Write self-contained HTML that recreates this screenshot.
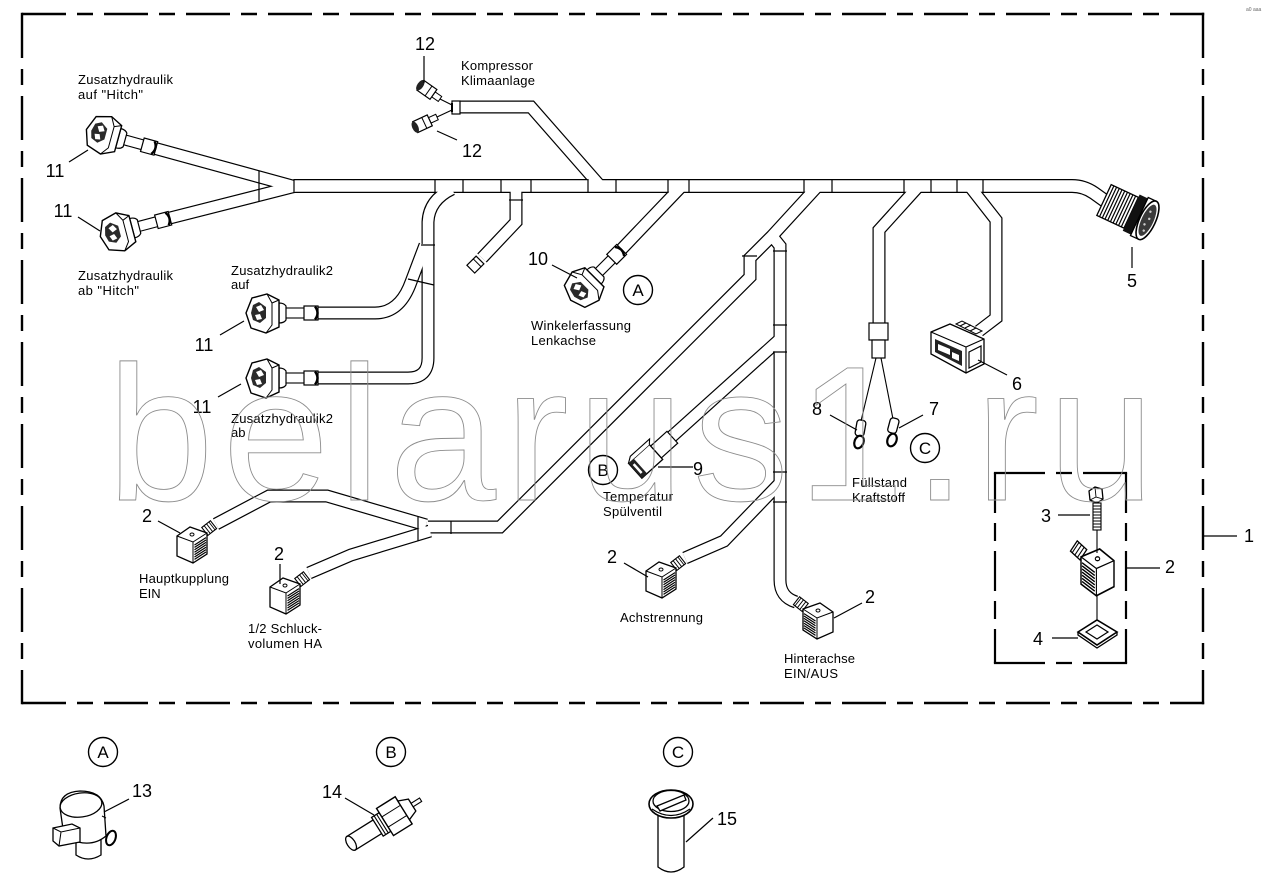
<!DOCTYPE html>
<html><head><meta charset="utf-8">
<style>
html,body{margin:0;padding:0;background:#fff;width:1274px;height:890px;overflow:hidden}
svg{display:block}
.t{font-family:"Liberation Sans",Arial,sans-serif;font-size:13px;fill:#000}
.n{font-family:"Liberation Sans",Arial,sans-serif;font-size:18px;fill:#000;text-anchor:middle}
.c{font-family:"Liberation Sans",Arial,sans-serif;font-size:17px;fill:#000;text-anchor:middle}
</style></head><body>
<svg width="1274" height="890" viewBox="0 0 1274 890" xmlns="http://www.w3.org/2000/svg">
<defs>
<g id="c11">
 <rect x="-2" y="-5" width="22" height="10" fill="#fff" stroke="#000" stroke-width="1.1"/>
 <rect x="18" y="-7" width="14" height="14" fill="#fff" stroke="#000" stroke-width="1.2"/>
 <path d="M29,-6.5 Q34,0 29,6.5" fill="none" stroke="#000" stroke-width="2.4"/>
 <path d="M-7,-10 Q-2,-10 0,-7 L0,7 Q-2,10 -7,10 Z" fill="#fff" stroke="#000" stroke-width="1.2"/>
 <path d="M-7,-13 L-19,-19 L-34,-15 L-40,0 L-35,15 L-20,20 L-7,14 Z" fill="#fff" stroke="#000" stroke-width="1.4"/>
 <path d="M-19,-19 L-14,-10 L-14,12 L-20,20 M-14,-10 L-7,-13" fill="none" stroke="#000" stroke-width="1"/>
 <path d="M-33,-8 L-27,-11 L-20,-6 L-20,5 L-26,10 L-33,7 L-35,0 Z" fill="#2a2a2a"/>
 <path d="M-30,-6 L-25,-8 L-22,-3 L-27,-1 Z M-31,2 L-26,1 L-24,6 L-29,7 Z" fill="#fff"/>
 <path d="M-19,-3 L-16,-3 L-16,3 L-19,3 Z" fill="#fff"/>
</g>
<g id="sol">
 <g transform="translate(31,2) rotate(-38)">
  <rect x="-4" y="-5" width="11" height="10" fill="#fff" stroke="#000" stroke-width="1.1"/>
  <path d="M-1,-5 V5 M2,-5 V5 M5,-5 V5" stroke="#000" stroke-width="0.9"/>
 </g>
 <path d="M0,9 L13,0 L30,6 L30,27 L16,36 L0,29 Z" fill="#fff" stroke="#000" stroke-width="1.3"/>
 <path d="M0,9 L16,15 L30,6 M16,15 V36" fill="none" stroke="#000" stroke-width="1"/>
 <ellipse cx="15" cy="7.5" rx="2" ry="1.5" fill="none" stroke="#000" stroke-width="1"/>
 <path d="M17.5,18 L29,10.6 M17.5,20.4 L29,13 M17.5,22.8 L29,15.4 M17.5,25.2 L29,17.8 M17.5,27.6 L29,20.2 M17.5,30 L29,22.6 M17.5,32.4 L29,25" stroke="#000" stroke-width="1.2"/>
</g>
</defs>
<rect width="1274" height="890" fill="#fff"/>

<!-- outer dashed frame (explicit dashes) -->
<g fill="none" stroke="#000" stroke-width="2.4">
 <path d="M22,14 H66 M77,14 H93 M104,14 H148 M159,14 H175 M186,14 H230 M241,14 H257 M268,14 H312 M323,14 H339 M350,14 H394 M405,14 H421 M432,14 H476 M487,14 H503 M514,14 H558 M569,14 H585 M596,14 H640 M651,14 H667 M678,14 H722 M733,14 H749 M760,14 H804 M815,14 H831 M842,14 H886 M897,14 H913 M924,14 H968 M979,14 H995 M1006,14 H1050 M1061,14 H1077 M1088,14 H1132 M1143,14 H1159 M1170,14 H1204.2"/>
 <path d="M22,703 H66 M77,703 H93 M104,703 H148 M159,703 H175 M186,703 H230 M241,703 H257 M268,703 H312 M323,703 H339 M350,703 H394 M405,703 H421 M432,703 H476 M487,703 H503 M514,703 H558 M569,703 H585 M596,703 H640 M651,703 H667 M678,703 H722 M733,703 H749 M760,703 H804 M815,703 H831 M842,703 H886 M897,703 H913 M924,703 H968 M979,703 H995 M1006,703 H1050 M1061,703 H1077 M1088,703 H1132 M1143,703 H1159 M1170,703 H1204.2"/>
 <path d="M22,12.8 V58 M22,69 V85 M22,96 V140 M22,151 V167 M22,178 V222 M22,233 V249 M22,260 V304 M22,315 V331 M22,342 V386 M22,397 V413 M22,424 V468 M22,479 V495 M22,506 V550 M22,561 V577 M22,588 V632 M22,643 V659 M22,670 V704.2"/>
 <path d="M1203,12.8 V58 M1203,69 V85 M1203,96 V140 M1203,151 V167 M1203,178 V222 M1203,233 V249 M1203,260 V304 M1203,315 V331 M1203,342 V386 M1203,397 V413 M1203,424 V468 M1203,479 V495 M1203,506 V550 M1203,561 V577 M1203,588 V632 M1203,643 V659 M1203,670 V704.2"/>
</g>
<line x1="1203" y1="536" x2="1237" y2="536" stroke="#000" stroke-width="1.3"/>

<!-- inner dashed box (explicit dashes) -->
<g fill="none" stroke="#000" stroke-width="2.2">
 <path d="M993.9,473 H1045 M1056,473 H1072 M1083,473 H1127.1"/>
 <path d="M993.9,663 H1045 M1056,663 H1072 M1083,663 H1127.1"/>
 <path d="M995,473 V513 M995,523 V541 M995,551 V591 M995,601 V619 M995,629 V663"/>
 <path d="M1126,473 V513 M1126,523 V541 M1126,551 V591 M1126,601 V619 M1126,629 V663"/>
</g>

<!-- harness tubes -->
<g fill="none" stroke-linejoin="miter" stroke-miterlimit="4">
 <g stroke="#000" stroke-width="13">
  <path d="M296,187 L150,147"/>
  <path d="M296,186 L166,219"/>
  <path d="M452,189 Q429,200 428,222 L428,358 Q428,378 408,378 L312,378"/>
  <path d="M425,245 L411,282 Q400,313 375,313 L312,313"/>
  <path d="M516,189 L516,222 L482,258"/>
  <path d="M602,188 L531,107 L458,107"/>
  <path d="M680,188 L616,255"/>
  <path d="M816,188 L772,236 L750,258 L750,277 L500,527 L428,527"/>
  <path d="M772,236 L780,246 L780,580 Q780,597 796,602"/>
  <path d="M779,340 L668,440"/>
  <path d="M779,484 L724,541 L685,558"/>
  <path d="M216,524 L269,496 L327,496 L426,525"/>
  <path d="M309,573 L351,555 L430,531"/>
  <path d="M917,188 L879,230 L879,326"/>
  <path d="M971,188 L996,220 L996,318 L979,331"/>
 </g>
 <path d="M294,186 L1072,186 Q1084,186 1094,193 L1108,203" stroke="#000" stroke-width="14"/>
 <g stroke="#fff" stroke-width="10.6">
  <path d="M296,187 L150,147"/>
  <path d="M296,186 L166,219"/>
  <path d="M452,189 Q429,200 428,222 L428,358 Q428,378 408,378 L312,378"/>
  <path d="M425,245 L411,282 Q400,313 375,313 L312,313"/>
  <path d="M516,189 L516,222 L482,258"/>
  <path d="M602,188 L531,107 L458,107"/>
  <path d="M680,188 L616,255"/>
  <path d="M816,188 L772,236 L750,258 L750,277 L500,527 L428,527"/>
  <path d="M772,236 L780,246 L780,580 Q780,597 796,602"/>
  <path d="M779,340 L668,440"/>
  <path d="M779,484 L724,541 L685,558"/>
  <path d="M216,524 L269,496 L327,496 L426,525"/>
  <path d="M309,573 L351,555 L430,531"/>
  <path d="M917,188 L879,230 L879,326"/>
  <path d="M971,188 L996,220 L996,318 L979,331"/>
 </g>
 <path d="M294,186 L1072,186 Q1084,186 1094,193 L1108,203" stroke="#fff" stroke-width="11.6"/>
</g>

<!-- cross marks -->
<g stroke="#000" stroke-width="1.2">
 <path d="M294,179 V193 M435,179 V193 M463,179 V193 M501,179 V193 M531,179 V193 M588,179 V193 M616,179 V193 M668,179 V193 M689,179 V193 M804,179 V193 M832,179 V193 M904,179 V193 M931,179 V193 M957,179 V193 M983,179 V193"/>
 <path d="M259,171 V201"/>
 <path d="M421,245 H435 M408,279 L434,285"/>
 <path d="M509,200 H523"/>
 <path d="M773,325 H787 M773,352 H787 M773,472 H787 M773,502 H787"/>
 <path d="M742,256 H757 M773,251 H787"/>
 <path d="M418,517 V541 M451,521 V534"/>
</g>

<!-- connectors 11 / 10 -->
<use href="#c11" transform="translate(125,140) rotate(15.3)"/>
<use href="#c11" transform="translate(139,226.4) rotate(-14.8)"/>
<use href="#c11" transform="translate(286,313)"/>
<use href="#c11" transform="translate(286,378)"/>
<use href="#c11" transform="translate(599,272) rotate(-45)"/>

<!-- end plug of branch -->
<g transform="translate(480,260) rotate(135)">
 <rect x="0" y="-5.5" width="13" height="11" fill="#fff" stroke="#000" stroke-width="1.2"/>
 <line x1="4" y1="-5.5" x2="4" y2="5.5" stroke="#000" stroke-width="1"/>
</g>

<!-- compressor end & connectors 12 -->
<rect x="452" y="101" width="8" height="13" fill="#fff" stroke="#000" stroke-width="1.2"/>
<path d="M452,103 V112" stroke="#000" stroke-width="2"/>
<path d="M452,105 L440,99 M452,110 L437,117" stroke="#000" stroke-width="1.1" fill="none"/>
<g transform="translate(440,99) rotate(35)">
 <rect x="-8" y="-3" width="8" height="6" fill="#fff" stroke="#000" stroke-width="1"/>
 <rect x="-24" y="-6" width="16" height="12" fill="#fff" stroke="#000" stroke-width="1.2"/>
 <ellipse cx="-24" cy="0" rx="3" ry="6" fill="#222"/>
 <line x1="-14" y1="-6" x2="-14" y2="6" stroke="#000"/>
</g>
<g transform="translate(437,117) rotate(-25)">
 <rect x="-8" y="-3" width="8" height="6" fill="#fff" stroke="#000" stroke-width="1"/>
 <rect x="-24" y="-6" width="16" height="12" fill="#fff" stroke="#000" stroke-width="1.2"/>
 <ellipse cx="-24" cy="0" rx="3" ry="6" fill="#222"/>
 <line x1="-14" y1="-6" x2="-14" y2="6" stroke="#000"/>
</g>

<!-- connector 9 -->
<g transform="translate(656,452) rotate(-42)">
 <rect x="0" y="-8" width="22" height="16" fill="#fff" stroke="#000" stroke-width="1.2"/>
 <rect x="-28" y="-10" width="28" height="20" fill="#fff" stroke="#000" stroke-width="1.3"/>
 <path d="M-28,-10 L-22,-14 L4,-14 L0,-10" fill="#fff" stroke="#000" stroke-width="1.1"/>
 <rect x="-28" y="-10" width="7" height="20" fill="#222"/>
 <rect x="-26" y="-6" width="2.5" height="12" fill="#fff"/>
</g>

<!-- fuel sender wires & terminals -->
<rect x="869" y="323" width="19" height="17" fill="#fff" stroke="#000" stroke-width="1.2"/>
<rect x="872" y="340" width="13" height="18" fill="#fff" stroke="#000" stroke-width="1.2"/>
<path d="M876,358 L861,421 M881,358 L893,419" stroke="#000" stroke-width="1.1" fill="none"/>
<rect x="856" y="420" width="9" height="16" rx="3" fill="#fff" stroke="#000" stroke-width="1.3" transform="rotate(10 860 428)"/>
<ellipse cx="859" cy="442" rx="4.5" ry="6.5" fill="none" stroke="#000" stroke-width="2.2" transform="rotate(20 859 442)"/>
<rect x="889" y="418" width="9" height="15" rx="3" fill="#fff" stroke="#000" stroke-width="1.3" transform="rotate(15 893 425)"/>
<ellipse cx="892" cy="440" rx="4.5" ry="6.5" fill="none" stroke="#000" stroke-width="2.2" transform="rotate(20 892 440)"/>

<!-- connector 6 -->
<path d="M931,332 L950,324 L984,339 L984,364 L966,373 L931,354 Z" fill="#fff" stroke="#000" stroke-width="1.3"/>
<path d="M931,332 L966,347 L984,339 M966,347 V373" fill="none" stroke="#000" stroke-width="1.1"/>
<path d="M935,339 L962,351 L962,366 L935,352 Z" fill="#222"/>
<path d="M938,344 L950,349 L950,355 L938,350 Z M952,352 L959,355 L959,361 L952,358 Z" fill="#fff"/>
<path d="M969,352 L981,346 L981,362 L969,368 Z" fill="none" stroke="#000" stroke-width="1.2"/>
<path d="M956,324 L962,321 L982,331 L976,334 Z" fill="#fff" stroke="#000" stroke-width="1"/>
<path d="M960,326 L966,323 M965,328 L971,325 M970,331 L976,328" stroke="#000" stroke-width="1"/>

<!-- connector 5 -->
<g transform="translate(1104,200) rotate(25)">
 <rect x="0" y="-17" width="30" height="34" fill="#fff" stroke="#000" stroke-width="1.3"/>
 <path d="M3,-17 V17 M6,-17 V17 M9,-17 V17 M12,-17 V17 M15,-17 V17 M18,-17 V17 M21,-17 V17 M24,-17 V17 M27,-17 V17" stroke="#000" stroke-width="1.2"/>
 <rect x="30" y="-20" width="9" height="40" fill="#111"/>
 <rect x="39" y="-21" width="9" height="42" fill="#fff" stroke="#000" stroke-width="1.3"/>
 <ellipse cx="48" cy="0" rx="8" ry="21" fill="#fff" stroke="#000" stroke-width="1.6"/>
 <ellipse cx="48" cy="0" rx="6" ry="17" fill="#3a3a3a"/>
 <circle cx="47" cy="-9" r="1.2" fill="#ccc"/><circle cx="49" cy="-2" r="1.2" fill="#ccc"/>
 <circle cx="47" cy="5" r="1.2" fill="#ccc"/><circle cx="49" cy="11" r="1.2" fill="#ccc"/>
</g>

<!-- solenoids -->
<use href="#sol" transform="translate(177,527)"/>
<use href="#sol" transform="translate(270,578)"/>
<use href="#sol" transform="translate(646,562)"/>
<use href="#sol" transform="translate(833,603) scale(-1,1)"/>
<use href="#sol" transform="translate(1114,549) scale(-1.1,1.3)"/>

<!-- bolt, washer -->
<path d="M1097,530 V553 M1097,596 V622" stroke="#000" stroke-width="1.1"/>
<path d="M1089,491 L1095,487 L1102,489 L1103,499 L1097,503 L1090,500 Z" fill="#fff" stroke="#000" stroke-width="1.3"/>
<path d="M1095,487 L1096,497 L1103,499 M1096,497 L1090,500" fill="none" stroke="#000" stroke-width="0.9"/>
<rect x="1093" y="503" width="8" height="27" fill="#fff" stroke="#000" stroke-width="1.1"/>
<path d="M1093,506 H1101 M1093,509 H1101 M1093,512 H1101 M1093,515 H1101 M1093,518 H1101 M1093,521 H1101 M1093,524 H1101 M1093,527 H1101" stroke="#000" stroke-width="1.1"/>
<path d="M1078,632 L1097,620 L1117,632 L1097,645 Z" fill="#fff" stroke="#000" stroke-width="1.6"/>
<path d="M1078,632 L1078,635 L1097,648 L1117,635 L1117,632" fill="none" stroke="#000" stroke-width="1.3"/>
<path d="M1086,632 L1097,625 L1108,632 L1097,639 Z" fill="#fff" stroke="#000" stroke-width="1.2"/>

<!-- bottom parts: 13 -->
<path d="M76,828 V855 Q88,863 101,855 V828" fill="#fff" stroke="#000" stroke-width="1.3"/>
<path d="M60,808 Q60,792 80,791 Q101,791 104,806 L106,836 Q94,846 78,842 L64,836 Z" fill="#fff" stroke="#000" stroke-width="1.3"/>
<ellipse cx="81" cy="805" rx="21" ry="12" fill="#fff" stroke="#000" stroke-width="1.3" transform="rotate(-8 81 805)"/>
<path d="M53,828 L72,824 L80,828 L80,842 L59,846 L53,841 Z" fill="#fff" stroke="#000" stroke-width="1.3"/>
<path d="M53,828 L61,832 L80,828 M61,832 L59,846" fill="none" stroke="#000" stroke-width="1"/>
<ellipse cx="111" cy="838" rx="4.5" ry="7.5" fill="#fff" stroke="#000" stroke-width="2" transform="rotate(20 111 838)"/>
<path d="M102,816 L106,818" stroke="#000"/>

<!-- 14 -->
<g transform="translate(385,822) rotate(-32)">
 <rect x="-40" y="-8" width="32" height="16" fill="#fff" stroke="#000" stroke-width="1.3"/>
 <ellipse cx="-40" cy="0" rx="4" ry="8" fill="#fff" stroke="#000" stroke-width="1.3"/>
 <rect x="-9" y="-11" width="9" height="22" fill="#fff" stroke="#000" stroke-width="1.3"/>
 <path d="M-6,-11 V11 M-3,-11 V11" stroke="#000" stroke-width="1.1"/>
 <rect x="0" y="-16" width="22" height="32" fill="#fff" stroke="#000" stroke-width="1.4"/>
 <path d="M0,-6 H22 M0,6 H22" stroke="#000" stroke-width="1"/>
 <path d="M22,-11 L32,-7 L32,7 L22,11 Z" fill="#fff" stroke="#000" stroke-width="1.3"/>
 <rect x="32" y="-2" width="10" height="4" fill="#fff" stroke="#000" stroke-width="1.1"/>
</g>

<!-- 15 -->
<path d="M658,810 V867 Q671,877 684,867 V810" fill="#fff" stroke="#000" stroke-width="1.3"/>
<ellipse cx="671" cy="804" rx="22" ry="14" fill="#fff" stroke="#000" stroke-width="1.6"/>
<ellipse cx="671" cy="801" rx="18" ry="10.5" fill="#fff" stroke="#000" stroke-width="1.3"/>
<path d="M657,806 L684,795 L686,800 L660,811 Z" fill="#fff" stroke="#000" stroke-width="1.3"/>
<path d="M652,809 Q671,822 690,809" fill="none" stroke="#000" stroke-width="1.2"/>

<!-- leaders -->
<g stroke="#000" stroke-width="1.2">
 <path d="M69,162 L88,150 M78,217 L100,231 M220,335 L244,321 M218,397 L241,384"/>
 <path d="M424,56 V83 M457,140 L437,131 M552,265 L577,278 M658,467 H693"/>
 <path d="M830,415 L857,430 M923,415 L899,428 M978,360 L1007,375 M1132,247 V268"/>
 <path d="M1127,568 H1160 M1058,515 H1090 M1052,638 H1078"/>
 <path d="M158,521 L180,533 M280,564 V584 M624,563 L648,577 M862,603 L834,618"/>
 <path d="M129,799 L104,812 M345,798 L374,815 M713,818 L686,842"/>
</g>

<!-- circles -->
<g fill="none" stroke="#000" stroke-width="1.4">
 <circle cx="638" cy="290" r="14.5"/><circle cx="603" cy="470" r="14.5"/><circle cx="925" cy="448" r="14.5"/>
 <circle cx="103" cy="752" r="14.5"/><circle cx="391" cy="752" r="14.5"/><circle cx="678" cy="752" r="14.5"/>
</g>
<text class="c" x="638" y="296">A</text>
<text class="c" x="603" y="476">B</text>
<text class="c" x="925" y="454">C</text>
<text class="c" x="103" y="758">A</text>
<text class="c" x="391" y="758">B</text>
<text class="c" x="678" y="758">C</text>

<!-- labels -->
<text class="t" x="78" y="84" textLength="95" lengthAdjust="spacing">Zusatzhydraulik</text>
<text class="t" x="78" y="99" textLength="65" lengthAdjust="spacing">auf "Hitch"</text>
<text class="t" x="78" y="280" textLength="95" lengthAdjust="spacing">Zusatzhydraulik</text>
<text class="t" x="78" y="295" textLength="61" lengthAdjust="spacing">ab "Hitch"</text>
<text class="t" x="231" y="275" textLength="102" lengthAdjust="spacing">Zusatzhydraulik2</text>
<text class="t" x="231" y="289">auf</text>
<text class="t" x="231" y="423" textLength="102" lengthAdjust="spacing">Zusatzhydraulik2</text>
<text class="t" x="231" y="437">ab</text>
<text class="t" x="461" y="70" textLength="72" lengthAdjust="spacing">Kompressor</text>
<text class="t" x="461" y="85" textLength="74" lengthAdjust="spacing">Klimaanlage</text>
<text class="t" x="531" y="330" textLength="100" lengthAdjust="spacing">Winkelerfassung</text>
<text class="t" x="531" y="345" textLength="65" lengthAdjust="spacing">Lenkachse</text>
<text class="t" x="603" y="501" textLength="70" lengthAdjust="spacing">Temperatur</text>
<text class="t" x="603" y="516" textLength="59" lengthAdjust="spacing">Spülventil</text>
<text class="t" x="852" y="487" textLength="55" lengthAdjust="spacing">Füllstand</text>
<text class="t" x="852" y="502" textLength="53" lengthAdjust="spacing">Kraftstoff</text>
<text class="t" x="139" y="583" textLength="90" lengthAdjust="spacing">Hauptkupplung</text>
<text class="t" x="139" y="598">EIN</text>
<text class="t" x="248" y="633" textLength="74" lengthAdjust="spacing">1/2 Schluck-</text>
<text class="t" x="248" y="648" textLength="74" lengthAdjust="spacing">volumen HA</text>
<text class="t" x="620" y="622" textLength="83" lengthAdjust="spacing">Achstrennung</text>
<text class="t" x="784" y="663" textLength="71" lengthAdjust="spacing">Hinterachse</text>
<text class="t" x="784" y="678" textLength="54" lengthAdjust="spacing">EIN/AUS</text>

<!-- numbers -->
<text class="n" x="55" y="177">11</text>
<text class="n" x="63" y="217">11</text>
<text class="n" x="204" y="351">11</text>
<text class="n" x="202" y="413">11</text>
<text class="n" x="425" y="50">12</text>
<text class="n" x="472" y="157">12</text>
<text class="n" x="538" y="265">10</text>
<text class="n" x="698" y="475">9</text>
<text class="n" x="817" y="415">8</text>
<text class="n" x="934" y="415">7</text>
<text class="n" x="1017" y="390">6</text>
<text class="n" x="1132" y="287">5</text>
<text class="n" x="1249" y="542">1</text>
<text class="n" x="1170" y="573">2</text>
<text class="n" x="1046" y="522">3</text>
<text class="n" x="1038" y="645">4</text>
<text class="n" x="147" y="522">2</text>
<text class="n" x="279" y="560">2</text>
<text class="n" x="612" y="563">2</text>
<text class="n" x="870" y="603">2</text>
<text class="n" x="142" y="797">13</text>
<text class="n" x="332" y="798">14</text>
<text class="n" x="727" y="825">15</text>

<text x="1246" y="11" font-family="Liberation Sans, sans-serif" font-size="5" fill="#666">a0 aaa</text>

<!-- watermark -->
<text x="107" y="500" font-family="Liberation Sans, Arial, sans-serif" font-size="192" letter-spacing="8.7" fill="none" stroke="#8c8c8c" stroke-width="0.9">belarus1.ru</text>
</svg>
</body></html>
